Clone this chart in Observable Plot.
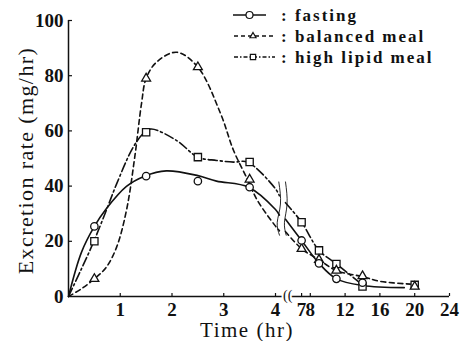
<!DOCTYPE html>
<html><head><meta charset="utf-8">
<script src="https://cdn.jsdelivr.net/npm/d3@7"></script>
<script src="https://cdn.jsdelivr.net/npm/@observablehq/plot@0.6"></script>
<style>
body{margin:0;background:#fff;}
#wrap{position:relative;width:467px;height:341px;}
#legend{position:absolute;left:0;top:0;pointer-events:none;}
</style></head><body><div id="wrap"></div>
<script>
// ---- data ----
const xTicks = [1, 2, 3, 4, 7, 8, 12, 16, 20, 24];
const yTicks = [0, 20, 40, 60, 80, 100];
const seriesNames = ["fasting", "balanced meal", "high lipid meal"];

// measured points (markers)
const markerTimes     = [0.5, 1.5, 2.5, 3.5, 7, 9, 11, 14, 20];
const fastingMarkers  = [25.4, 43.6, 41.8, 39.6, 20.3, 12.0, 6.4, 5.0, null];
const balancedMarkers = [6.4, 79.0, 83.1, 42.4, 17.3, 13.3, 9.4, 7.4, 3.6];
const lipidMarkers    = [20.0, 59.5, 50.5, 48.7, 26.9, 16.7, 11.8, 3.6, 4.2];

// fitted curves, before the axis break
const fastingCurveT  = [0, 0.25, 0.5, 0.73, 1.12, 1.47, 1.89, 2.5, 2.86, 3.48, 4.0, 4.45];
const fastingCurveV  = [0, 16, 25.4, 31.8, 39.9, 43.6, 45.5, 43.8, 41.8, 39.6, 31.5, 29.5];
const balancedCurveT = [0, 0.25, 0.5, 0.73, 0.93, 1.12, 1.28, 1.41, 1.5, 1.7, 2.09, 2.5, 2.94, 3.19, 3.46, 3.65, 4.0, 4.45];
const balancedCurveV = [0, 2.8, 6.4, 10.6, 17.9, 31.2, 50.5, 69.8, 79, 84.9, 88.5, 83.1, 66.2, 52.9, 42.4, 34.8, 25.5, 23.8];
const lipidCurveT    = [0, 0.25, 0.49, 0.73, 0.93, 1.25, 1.47, 1.6, 2.09, 2.5, 2.86, 3.19, 3.46, 4.0, 4.45];
const lipidCurveV    = [0, 10, 20, 31.2, 40.8, 54.1, 59.5, 60.7, 56.5, 50.5, 49.3, 48.7, 48.7, 39, 36.5];

// fitted curves, after the axis break
const fastingTailT  = [5.15, 7, 9, 11, 14, 18.8];
const fastingTailV  = [28, 20.3, 12, 6.4, 4.0, 3.2];
const balancedTailT = [5.15, 7, 9, 11, 14, 16, 19.5];
const balancedTailV = [23.5, 17.3, 13.3, 9.4, 7.2, 5.5, 4.5];
const lipidTailT    = [5.15, 7, 9, 11, 14];
const lipidTailV    = [34, 26.9, 16.7, 11.8, 4.2];

// break-mark decoration (wavy lines across the curves)
const breakWaveT = [[4.38, 4.57, 4.2, 4.46], [5.15, 5.33, 5.03, 5.23]];
const breakWaveV = [[41.5, 33.5, 26.9, 22.2], [41.5, 33.5, 26.9, 22.2]];

const yLabel = "Excretion rate (mg/hr)";
const xLabel = "Time (hr)";

// ---- build tables ----
const curves = [];
function addCurve(series, part, ts, vs) { ts.forEach((t, i) => curves.push({series, part, t, v: vs[i]})); }
addCurve("fasting", "a", fastingCurveT, fastingCurveV);
addCurve("fasting", "b", fastingTailT, fastingTailV);
addCurve("balanced", "a", balancedCurveT, balancedCurveV);
addCurve("balanced", "b", balancedTailT, balancedTailV);
addCurve("lipid", "a", lipidCurveT, lipidCurveV);
addCurve("lipid", "b", lipidTailT, lipidTailV);

const markers = markerTimes.map((t, i) => ({t, fasting: fastingMarkers[i], balanced: balancedMarkers[i], lipid: lipidMarkers[i]}));
const waves = [];
breakWaveT.forEach((ts, k) => ts.forEach((t, i) => waves.push({k, t, v: breakWaveV[k][i]})));

const serif = "'Liberation Serif', 'Times New Roman', serif";
const ink = "#111";

const chart = Plot.plot({
  width: 467, height: 341,
  marginLeft: 68, marginRight: 18, marginTop: 20, marginBottom: 45,
  style: {fontFamily: serif, background: "white", color: ink},
  x: {type: "linear", domain: [0, 4, 24], range: [68, 275, 449]},
  y: {domain: [0, 100], range: [296, 20]},
  marks: [
    Plot.line(curves.filter(d => d.series === "fasting"), {x: "t", y: "v", z: "part", curve: "catmull-rom", stroke: ink, strokeWidth: 1.6}),
    Plot.line(curves.filter(d => d.series === "balanced"), {x: "t", y: "v", z: "part", curve: "catmull-rom", stroke: ink, strokeWidth: 1.6, strokeDasharray: "5,3.5"}),
    Plot.line(curves.filter(d => d.series === "lipid"), {x: "t", y: "v", z: "part", curve: "catmull-rom", stroke: ink, strokeWidth: 1.6, strokeDasharray: "9,3,2,3"}),
    Plot.line(waves, {x: "t", y: "v", z: "k", curve: "natural", stroke: ink, strokeWidth: 0.9}),
    Plot.dot(markers.filter(d => d.lipid != null), {x: "t", y: "lipid", symbol: "square", r: 4.1, fill: "white", stroke: ink, strokeWidth: 1.3}),
    Plot.dot(markers.filter(d => d.balanced != null), {x: "t", y: "balanced", symbol: "triangle", r: 3.3, fill: "white", stroke: ink, strokeWidth: 1.3}),
    Plot.dot(markers.filter(d => d.fasting != null), {x: "t", y: "fasting", symbol: "circle", r: 3.7, fill: "white", stroke: ink, strokeWidth: 1.3}),
    Plot.ruleX([0], {stroke: ink, strokeWidth: 1.5}),
    Plot.ruleY([0], {stroke: ink, strokeWidth: 1.5}),
    Plot.text(["(("], {x: () => 5.4, y: () => 0, text: d => d, fontSize: 14, fill: ink, stroke: "white", strokeWidth: 4, paintOrder: "stroke", lineAnchor: "middle", dy: -1}),
    Plot.axisY({ticks: yTicks, tickSize: 0, tickPadding: 5, fontSize: 19, fontWeight: "bold", label: null}),
    Plot.axisY({ticks: yTicks.filter(d => d > 0), tickSize: 4, dx: 4, tickFormat: () => "", label: null, strokeWidth: 1.2}),
    Plot.axisX({ticks: xTicks, tickSize: 0, tickPadding: 6, fontSize: 19, fontWeight: "bold", label: null}),
    Plot.axisX({ticks: xTicks, tickSize: 3, dy: -3, tickFormat: () => "", label: null, strokeWidth: 1.2}),
    Plot.text([yLabel], {frameAnchor: "left", rotate: -90, dx: -43, dy: 2, fontSize: 22, textAnchor: "middle", lineAnchor: "middle", fill: ink}),
    Plot.text([xLabel], {frameAnchor: "bottom", dx: -12, dy: 34, fontSize: 21, textAnchor: "middle", lineAnchor: "middle", fill: ink})
  ]
});

const wrap = document.getElementById("wrap");
wrap.appendChild(chart);
d3.select(chart).selectAll("text").filter(function () { return this.textContent === yLabel; }).style("letter-spacing", "1.4px");
d3.select(chart).selectAll("text").filter(function () { return this.textContent === xLabel; }).style("letter-spacing", "1.5px");

// ---- legend (top right, inside the plot area) ----
const legendRows = [
  {name: seriesNames[0], y: 15, x1: 233, x2: 266, mx: 249.5, dash: null, sym: d3.symbolCircle, size: Math.PI * 3.5 * 3.5},
  {name: seriesNames[1], y: 36, x1: 234, x2: 275, mx: 253, dash: "4,3", sym: d3.symbolTriangle, size: 16},
  {name: seriesNames[2], y: 57, x1: 234, x2: 275, mx: 253, dash: "4,2,1.5,2", sym: d3.symbolSquare, size: 28}
];
const leg = d3.select(wrap).append("svg").attr("id", "legend").attr("width", 467).attr("height", 341);
legendRows.forEach(r => {
  leg.append("line").attr("x1", r.x1).attr("x2", r.x2).attr("y1", r.y).attr("y2", r.y)
    .attr("stroke", ink).attr("stroke-width", 1.5).attr("stroke-dasharray", r.dash);
  leg.append("path").attr("d", d3.symbol(r.sym, r.size)()).attr("transform", `translate(${r.mx},${r.y})`)
    .attr("fill", "white").attr("stroke", ink).attr("stroke-width", 1.2);
  leg.append("text").attr("x", 281).attr("y", r.y + 6).attr("font-family", serif).attr("font-size", 17)
    .attr("font-weight", "bold").attr("fill", ink).style("letter-spacing", "2px").style("white-space", "pre")
    .text(": " + r.name);
});
</script></body></html>
